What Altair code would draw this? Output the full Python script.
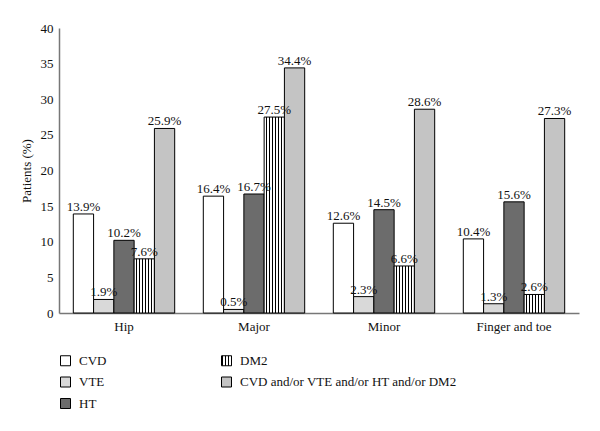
import altair as alt
import pandas as pd

groups = ["Hip", "Major", "Minor", "Finger and toe"]
series = ["CVD", "VTE", "HT", "DM2", "CVD and/or VTE and/or HT and/or DM2"]
cvd = [13.9, 16.4, 12.6, 10.4]
vte = [1.9, 0.5, 2.3, 1.3]
ht = [10.2, 16.7, 14.5, 15.6]
dm2 = [7.6, 27.5, 6.6, 2.6]
combined = [25.9, 34.4, 28.6, 27.3]

values = [cvd, vte, ht, dm2, combined]
rows = []
for s, vals in zip(series, values):
    for g, v in zip(groups, vals):
        rows.append({"group": g, "series": s, "value": v, "label": f"{v}%"})
df = pd.DataFrame(rows)

FONT = "Liberation Serif"

# vertical stripe gradient for DM2
n = 7
w = 0.045
stops = []
for k in range(n):
    a = k / n
    b = (k + 1) / n
    stops += [f"{{offset:{a:.4f},color:'#ffffff'}}",
              f"{{offset:{b - w:.4f},color:'#ffffff'}}",
              f"{{offset:{b - w:.4f},color:'#000000'}}",
              f"{{offset:{b:.4f},color:'#000000'}}"]
stripe_expr = "{gradient:'linear',x1:0,y1:0,x2:1,y2:0,stops:[" + ",".join(stops) + "]}"

fill_map = {
    "CVD": "#ffffff",
    "VTE": "#d9d9d9",
    "HT": "#6c6c6c",
    "DM2": {"expr": stripe_expr},
    "CVD and/or VTE and/or HT and/or DM2": "#c4c4c4",
}
fill_range = [fill_map[s] for s in series]

x_enc = alt.X("group:N", sort=groups,
              scale=alt.Scale(paddingInner=0.22, paddingOuter=0.11),
              axis=alt.Axis(title=None, labelAngle=0, ticks=False, labelPadding=7,
                            labelFont=FONT, labelFontSize=13, labelColor="#111",
                            domainColor="#777", domainWidth=1.5))
xoff = alt.XOffset("series:N", sort=series, scale=alt.Scale(paddingInner=0, paddingOuter=0))
y_enc = alt.Y("value:Q", scale=alt.Scale(domain=[0, 40]),
              axis=alt.Axis(values=list(range(0, 45, 5)), ticks=False, grid=False,
                            labelOverlap=False, labelPadding=6,
                            labelFont=FONT, labelFontSize=13, labelColor="#111",
                            title="Patients (%)", titlePadding=7,
                            titleFont=FONT, titleFontSize=13, titleFontWeight="normal",
                            titleColor="#111",
                            domainColor="#777", domainWidth=1.5))

bars = alt.Chart(df).mark_bar(stroke="black", strokeWidth=1).encode(
    x=x_enc, xOffset=xoff, y=y_enc,
    fill=alt.Fill("series:N", scale=alt.Scale(domain=series, range=fill_range),
                  legend=alt.Legend(title=None, orient="none", legendX=0, legendY=326,
                                    columns=2, columnPadding=112, rowPadding=6.5,
                                    symbolType="square", symbolSize=100,
                                    symbolStrokeColor="black", symbolStrokeWidth=1,
                                    labelFont=FONT, labelFontSize=13, labelColor="#111",
                                    labelOffset=7, labelLimit=400)),
)

labels = alt.Chart(df).mark_text(dy=-7, font=FONT, fontSize=13, color="#111").encode(
    x=x_enc, xOffset=xoff, y=y_enc, text="label:N",
)

chart = alt.layer(bars, labels).properties(
    width=520, height=285,
    autosize=alt.AutoSizeParams(type="none"),
    padding={"left": 51, "top": 20, "right": 13, "bottom": 110},
).configure(font=FONT).configure_view(stroke=None)

chart.save("out.html", embed_options={"renderer": "svg", "actions": False})
